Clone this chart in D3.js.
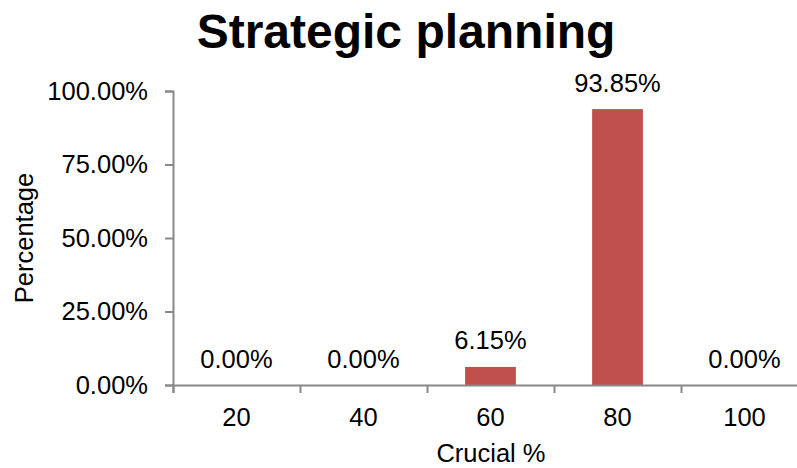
<!DOCTYPE html>
<html>
<head>
<meta charset="utf-8">
<script src="https://cdn.jsdelivr.net/npm/d3@7"></script>
<style>
  html, body { margin: 0; padding: 0; background: #fff; }
  svg { display: block; font-family: "Liberation Sans", Arial, sans-serif; }
</style>
</head>
<body>
<svg id="chart" width="797" height="468"></svg>
<script>
const categories = ["20", "40", "60", "80", "100"];
const values = [0.00, 0.00, 6.15, 93.85, 0.00];
const yTicks = [0, 25, 50, 75, 100];
const title = "Strategic planning";
const xTitle = "Crucial %";
const yTitle = "Percentage";

(function () {
const svg = d3.select("#chart");
const pLeft = 173, pRight = 808, pTop = 91, pBottom = 385;

const x = d3.scaleBand().domain(categories).range([pLeft, pRight]).paddingInner(0.6).paddingOuter(0.3);
const xTickScale = d3.scaleLinear().domain([0, categories.length]).range([pLeft, pRight]);
const y = d3.scaleLinear().domain([0, 100]).range([pBottom, pTop]);

const axisColor = "#888888";
const fontSize = 25.5;

// title
svg.append("text").attr("x", 406).attr("y", 48).attr("text-anchor", "middle")
  .attr("font-size", 48).attr("font-weight", "bold").attr("fill", "#000").text(title);

// bars
svg.selectAll("rect.bar").data(categories).enter().append("rect")
  .attr("class", "bar")
  .attr("x", d => x(d))
  .attr("width", x.bandwidth())
  .attr("y", (d, i) => y(values[i]))
  .attr("height", (d, i) => pBottom - y(values[i]))
  .attr("fill", "#C0504D");

// data labels
svg.selectAll("text.lbl").data(categories).enter().append("text")
  .attr("class", "lbl")
  .attr("x", d => x(d) + x.bandwidth() / 2)
  .attr("y", (d, i) => y(values[i]) - 17.5)
  .attr("text-anchor", "middle")
  .attr("font-size", fontSize).attr("fill", "#000")
  .text((d, i) => values[i].toFixed(2) + "%");

// y axis
const yAxis = d3.axisLeft(y).tickValues(yTicks).tickSize(8).tickPadding(17)
  .tickFormat(d => d.toFixed(2) + "%");
const gy = svg.append("g").attr("transform", `translate(${pLeft},0)`).call(yAxis);
gy.select(".domain").attr("stroke", axisColor).attr("stroke-width", 2);
gy.selectAll(".tick line").attr("stroke", axisColor).attr("stroke-width", 2);
gy.selectAll(".tick text").attr("font-size", fontSize).attr("fill", "#000")
  .attr("font-family", "Liberation Sans, Arial, sans-serif");

// x axis (category boundary ticks)
const boundaries = d3.range(categories.length + 1);
const xAxis = d3.axisBottom(xTickScale).tickValues(boundaries).tickSize(8).tickFormat("");
const gx = svg.append("g").attr("transform", `translate(0,${pBottom})`).call(xAxis);
gx.select(".domain").attr("stroke", axisColor).attr("stroke-width", 2);
gx.selectAll(".tick line").attr("stroke", axisColor).attr("stroke-width", 2);

// x category labels
svg.selectAll("text.xcat").data(categories).enter().append("text")
  .attr("class", "xcat")
  .attr("x", d => x(d) + x.bandwidth() / 2)
  .attr("y", 426)
  .attr("text-anchor", "middle")
  .attr("font-size", fontSize).attr("fill", "#000")
  .text(d => d);

// axis titles
svg.append("text").attr("x", 491).attr("y", 462).attr("text-anchor", "middle")
  .attr("font-size", fontSize).attr("fill", "#000").text(xTitle);
svg.append("text").attr("transform", "translate(33,238) rotate(-90)").attr("text-anchor", "middle")
  .attr("font-size", fontSize).attr("fill", "#000").text(yTitle);
})();
</script>
</body>
</html>
